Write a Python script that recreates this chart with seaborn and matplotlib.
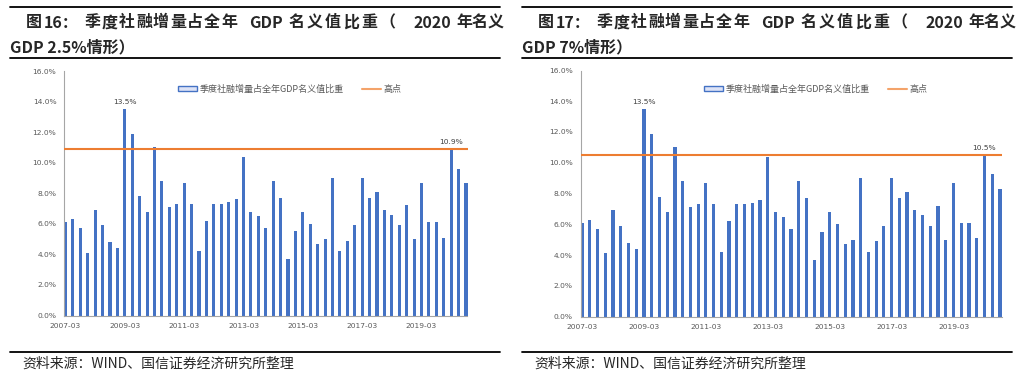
import numpy as np
import pandas as pd
import matplotlib.pyplot as plt
import seaborn as sns
from matplotlib.lines import Line2D
from matplotlib.patches import Patch
from matplotlib.ticker import FuncFormatter

# quarterly social financing increment / full-year nominal GDP (%)
quarters = [f"{y}-{m}" for y in range(2007, 2021) for m in ("03", "06", "09", "12")][:55]
share_2007_2019 = [6.1, 6.3, 5.7, 4.1, 6.9, 5.9, 4.8, 4.4,
                   13.5, 11.9, 7.8, 6.8, 11.0, 8.8, 7.1, 7.3,
                   8.7, 7.3, 4.2, 6.2, 7.3, 7.3, 7.4, 7.6,
                   10.4, 6.8, 6.5, 5.7, 8.8, 7.7, 3.7, 5.5,
                   6.8, 6.0, 4.7, 5.0, 9.0, 4.2, 4.9, 5.9,
                   9.0, 7.7, 8.1, 6.9, 6.6, 5.9, 7.2, 5.0,
                   8.7, 6.1, 6.1, 5.1]
share_2020_gdp25 = [10.9, 9.6, 8.7]
share_2020_gdp7 = [10.5, 9.3, 8.3]
peak_gdp25 = 10.9
peak_gdp7 = 10.5
tick_labels = ["2007-03", "2009-03", "2011-03", "2013-03", "2015-03", "2017-03", "2019-03"]

bar_label = "季度社融增量占全年GDP名义值比重"
line_label = "高点"
source = "资料来源：WIND、国信证券经济研究所整理"

panels = [
    dict(values=share_2007_2019 + share_2020_gdp25, peak=peak_gdp25,
         title1=["图", "16：", "季度社融增量占全年", "GDP", "名义值比重（", "2020", "年名义"],
         title2="GDP 2.5%情形）", dx=0,
         box=[64, 71, 467.5, 315.5], legend_x=290),
    dict(values=share_2007_2019 + share_2020_gdp7, peak=peak_gdp7,
         title1=["图", "17：", "季度社融增量占全年", "GDP", "名义值比重（", "2020", "年名义"],
         title2="GDP 7%情形）", dx=512,
         box=[580.5, 70.5, 1001.5, 316.5], legend_x=816),
]
# justified first title line: (x start, character pitch or None)
title_layout = [(26, None), (44, None), (85, 17), (249, None), (289, 18), (413, None), (456, 16)]

BLUE = "#4472C4"
ORANGE = "#ED7D31"
GREY = "#595959"
W, H = 1023, 384

sns.set_theme(style="white")
plt.rcParams["font.family"] = ["Noto Sans CJK SC", "DejaVu Sans"]

fig = plt.figure(figsize=(W / 100, H / 100), dpi=100)

for p in panels:
    x0, y0, x1, y1 = p["box"]
    ax = fig.add_axes([x0 / W, 1 - y1 / H, (x1 - x0) / W, (y1 - y0) / H])
    df = pd.DataFrame({"quarter": quarters, "share": p["values"]})
    sns.barplot(data=df, x="quarter", y="share", color=BLUE, saturation=1,
                width=0.42, linewidth=0, ax=ax)
    ax.axhline(p["peak"], color=ORANGE, lw=1.5, zorder=3)

    ax.set_xlim(-0.2, len(quarters) - 0.8)
    ax.set_ylim(0, 16)
    ax.set_yticks(np.arange(0, 17, 2))
    ax.yaxis.set_major_formatter(FuncFormatter(lambda v, _: f"{v:.1f}%"))
    ax.set_xticks([quarters.index(t) for t in tick_labels])
    ax.set_xticklabels(tick_labels)
    ax.set_xlabel("")
    ax.set_ylabel("")
    ax.tick_params(axis="both", labelsize=5.4, labelcolor=GREY, colors="#A6A6A6",
                   length=2.5, width=0.7, pad=3)
    for lab in ax.get_xticklabels() + ax.get_yticklabels():
        lab.set_family("DejaVu Sans")
        lab.set_color(GREY)
    for s in ["top", "right"]:
        ax.spines[s].set_visible(False)
    for s in ["left", "bottom"]:
        ax.spines[s].set_color("#A6A6A6")
        ax.spines[s].set_linewidth(0.8)

    # peak annotations
    vals = p["values"]
    for i in [int(np.argmax(vals[:20])), 52]:
        ax.annotate(f"{vals[i]:.1f}%", (i, vals[i]), xytext=(0, 3),
                    textcoords="offset points", ha="center", va="bottom",
                    fontsize=5.4, color="#404040", family="DejaVu Sans")

    handles = [Patch(facecolor="#DDE3F6", edgecolor=BLUE, linewidth=1),
               Line2D([], [], color="#F4A36A", lw=1.5)]
    fig.legend(handles, [bar_label, line_label], loc="center",
               bbox_to_anchor=(p["legend_x"] / W, 1 - 89 / H), ncol=2,
               frameon=False, fontsize=6.5, labelcolor=GREY, handlelength=2.1,
               handleheight=0.6, handletextpad=0.3, columnspacing=2.0)

    dx = p["dx"]
    for seg, (tx, pitch) in zip(p["title1"], title_layout):
        if pitch is None:
            fig.text((tx + dx) / W, 1 - 22.5 / H, seg, fontsize=11.5, fontweight="bold",
                     ha="left", va="center")
        else:
            for k, ch in enumerate(seg):
                fig.text((tx + dx + k * pitch) / W, 1 - 22.5 / H, ch, fontsize=11.5,
                         fontweight="bold", ha="left", va="center")
    fig.text((10 + dx) / W, 1 - 47 / H, p["title2"], fontsize=11.5,
             fontweight="bold", ha="left", va="center")
    fig.text((22 + dx) / W, 1 - 364 / H, source, fontsize=10, ha="left", va="center")

    for yy in [7, 57.5, 352]:
        fig.add_artist(Line2D([(10 + dx) / W, (500 + dx) / W], [1 - yy / H, 1 - yy / H],
                              color="black", lw=1.3))

fig.savefig("out.png", dpi=100)
